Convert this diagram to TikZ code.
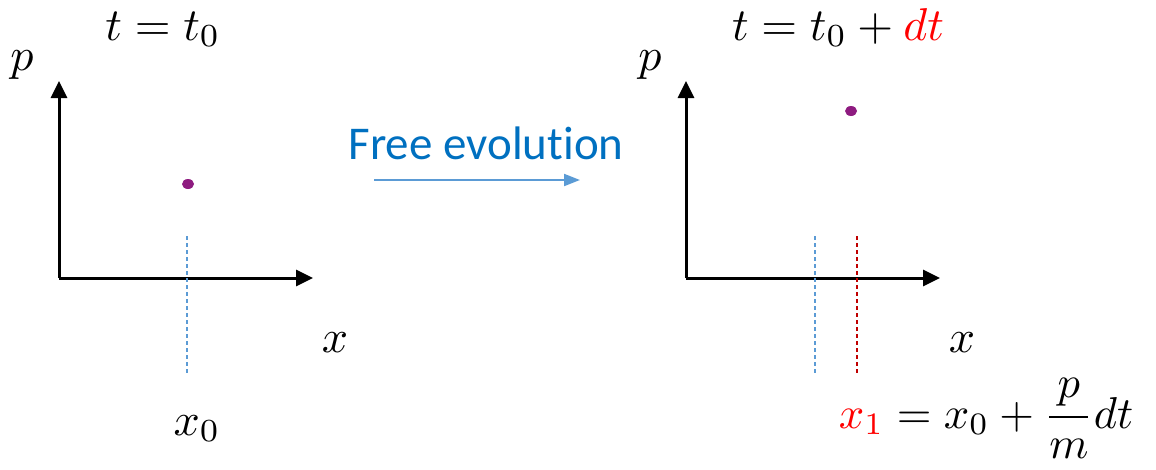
\documentclass[tikz,border=0pt]{standalone}
\usepackage{amsmath}
\usepackage{fontspec}
\newfontfamily\labelfont[Ligatures=NoCommon]{Carlito}
\usetikzlibrary{arrows.meta,calc,positioning}
\definecolor{evoblue}{HTML}{0070C0}
\definecolor{arrowblue}{HTML}{5B9BD5}
\definecolor{dotpurple}{HTML}{8E1B80}
\definecolor{darkred}{HTML}{C00000}
\begin{document}
\begin{tikzpicture}[x=1pt,y=-1pt,
    axis/.style={line width=3pt,-{Triangle[length=17pt,width=16pt]}},
    mathlabel/.style={inner sep=0pt,anchor=base,scale=4.6},
    guide/.style={line width=1.2pt,dash pattern=on 4pt off 3pt}]
        \useasboundingbox (0,0) rectangle (1156,469);
        % Define coordinates
        \coordinate (O1) at (59,278);
        \coordinate (O2) at (686,278);
        % Left phase space
        \draw[axis] (O1) -- ++(0,-197) coordinate (P1);
        \draw[axis] (O1) -- ++(254,0) coordinate (X1);
        \node[mathlabel] (p1) at (22,70) {$p$};
        \node[mathlabel] (x1) at (335,352) {$x$};
        \node[mathlabel] (t1) at (163,40) {$t=t_0$};
        \node[mathlabel] (xz) at (197,435) {$x_0$};
        \coordinate (A1) at (187,236);
        \coordinate (B1) at (187,375);
        \draw[guide, draw=arrowblue] (A1) -- (B1);
        \fill[dotpurple] (188,184) ellipse (6 and 5);
        % Right phase space
        \draw[axis] (O2) -- ++(0,-197) coordinate (P2);
        \draw[axis] (O2) -- ++(254,0) coordinate (X2);
        \node[mathlabel] (p2) at (650,70) {$p$};
        \node[mathlabel] (x2) at (962,352) {$x$};
        \node[mathlabel] (t2) at (838,40) {$t=t_0+\textcolor{red}{dt}$};
        \node[mathlabel, anchor=base west, scale=0.97] (xo) at (838,428) {$\textcolor{red}{x_1}=x_0+\dfrac{p}{m}dt$};
        \coordinate (A2) at (815,236);
        \coordinate (B2) at (815,375);
        \coordinate (C2) at (857,236);
        \coordinate (D2) at (857,375);
        \draw[guide, draw=arrowblue] (A2) -- (B2);
        \draw[guide, draw=darkred] (C2) -- (D2);
        \fill[dotpurple] (851,111) ellipse (6 and 5);
        % Evolution arrow
        \node[inner sep=0pt, text=evoblue, font=\labelfont\fontsize{47}{56}\selectfont] (evo) at (486,143) {Free evolution};
        \coordinate (E1) at (374,180);
        \coordinate (E2) at (580,180);
        \draw[line width=2pt, arrowblue, -{Triangle[length=16pt,width=12pt]}] (E1) -- (E2);
      \end{tikzpicture}
\end{document}
